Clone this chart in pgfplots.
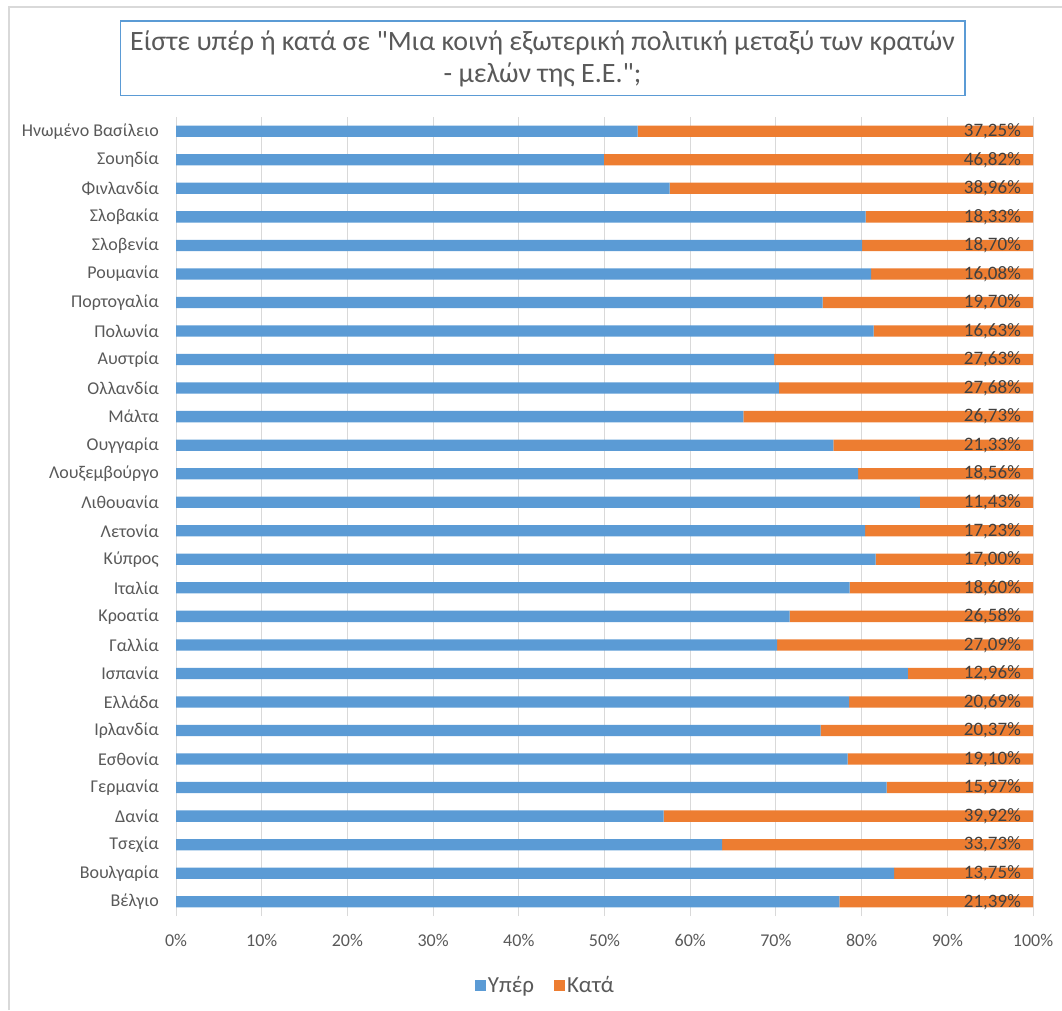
\documentclass[border=0pt]{standalone}
\usepackage{fontspec}
\setmainfont{Carlito}[Ligatures=TeXOff]
\usepackage{pgfplots}
\usepackage{pgfplotstable}
\pgfplotsset{compat=1.18}
\definecolor{cblue}{HTML}{5B9BD5}
\definecolor{corange}{HTML}{ED7D31}
\definecolor{gridc}{HTML}{D9D9D9}
\definecolor{txt}{HTML}{595959}
\definecolor{dtxt}{HTML}{404040}
\pgfplotstableread{
idx name yper kata lbl
0 Βέλγιο 77.40 22.60 21.39
1 Βουλγαρία 83.78 16.22 13.75
2 Τσεχία 63.71 36.29 33.73
3 Δανία 56.91 43.09 39.92
4 Γερμανία 82.93 17.07 15.97
5 Εσθονία 78.38 21.62 19.10
6 Ιρλανδία 75.23 24.77 20.37
7 Ελλάδα 78.53 21.47 20.69
8 Ισπανία 85.41 14.59 12.96
9 Γαλλία 70.13 29.87 27.09
10 Κροατία 71.61 28.39 26.58
11 Ιταλία 78.61 21.39 18.60
12 Κύπρος 81.64 18.36 17.00
13 Λετονία 80.40 19.60 17.23
14 Λιθουανία 86.81 13.19 11.43
15 Λουξεμβούργο 79.58 20.42 18.56
16 Ουγγαρία 76.70 23.30 21.33
17 Μάλτα 66.20 33.80 26.73
18 Ολλανδία 70.36 29.64 27.68
19 Αυστρία 69.78 30.22 27.63
20 Πολωνία 81.41 18.59 16.63
21 Πορτογαλία 75.46 24.54 19.70
22 Ρουμανία 81.10 18.90 16.08
23 Σλοβενία 80.05 19.95 18.70
24 Σλοβακία 80.48 19.52 18.33
25 Φινλανδία 57.61 42.39 38.96
26 Σουηδία 49.94 50.06 46.82
27 {Ηνωμένο Βασίλειο} 53.87 46.13 37.25
}\datatable
\begin{document}
\begin{tikzpicture}
\useasboundingbox (0pt,0pt) rectangle (1062pt,1010pt);
\draw[gridc, line width=1.5pt] (9pt,0pt) -- (9pt,1003pt) -- (1062pt,1003pt);
\draw[cblue, line width=1.2pt] (120.5pt,989pt) rectangle (965pt,914.5pt);
\node[align=center, font=\fontsize{28}{32}\selectfont, text=txt] at (542.5pt,951pt) {Είστε υπέρ ή κατά σε "Μια κοινή εξωτερική πολιτική μεταξύ των κρατών\\- μελών της Ε.Ε.";};
\begin{axis}[
  width=857pt, height=799pt, scale only axis,
  at={(176pt,94pt)}, anchor=south west,
  xbar stacked, bar width=11.3pt,
  xmin=0, xmax=100, ymin=-0.5, ymax=27.5,
  axis line style={draw=none},
  xmajorgrids=true,
  major grid style={gridc, line width=1pt},
  xtick={0,10,...,100},
  xticklabel={\pgfmathprintnumber{\tick}\%},
  ytick={0,...,27},
  yticklabels from table={\datatable}{name},
  major tick length=0pt,
  tick style={draw=none},
  /pgf/number format/assume math mode=true,
  ticklabel style={font=\fontsize{18}{20}\selectfont, text=txt},
  xticklabel style={anchor=center, yshift=-24.7pt, inner sep=0pt},
  yticklabel style={anchor=east, inner sep=0pt, xshift=-17pt},
  legend style={at={(0.431,-0.0864)}, anchor=center, draw=none,
    font=\fontsize{23}{25}\selectfont, text=txt, legend columns=2,
    nodes={inner sep=2pt},
    /tikz/every even column/.append style={column sep=18pt}},
  legend image code/.code={\fill[#1] (0pt,-5.5pt) rectangle (11pt,5.5pt);},
]
\addplot[fill=cblue, draw=none] table[x=yper, y=idx] {\datatable};
\addlegendentry{Υπέρ}
\addplot[fill=corange, draw=none, point meta=explicit,
  visualization depends on={\thisrow{kata} \as \segw},
  nodes near coords={\pgfmathprintnumber[fixed,fixed zerofill,precision=2,use comma]{\pgfplotspointmeta}\%},
  nodes near coords align={anchor=east},
  every node near coord/.append style={anchor=east, inner sep=0pt, xshift={\segw*4.285pt-12pt}, font=\fontsize{19}{21}\selectfont, text=dtxt}]
  table[x=kata, y=idx, meta=lbl] {\datatable};
\addlegendentry{Κατά}
\end{axis}
\end{tikzpicture}
\end{document}
